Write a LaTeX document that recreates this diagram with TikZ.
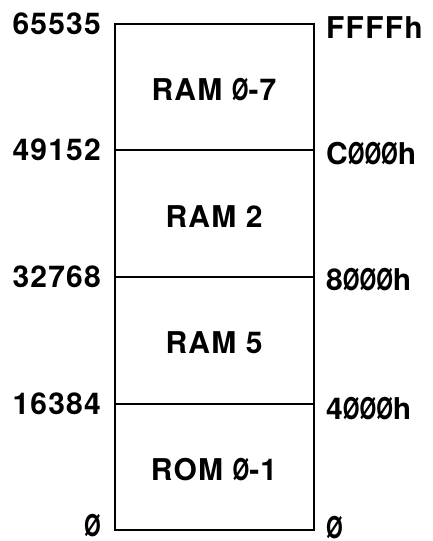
\documentclass[tikz,border=0pt]{standalone}
\usepackage{fontspec}
\setmainfont{TeX Gyre Heros}[LetterSpace=4]
\usepackage{tikz}
\usetikzlibrary{positioning}
% slashed zero, as wide as a digit
\newcommand{\sz}{\scalebox{0.715}[1]{Ø}}

\begin{document}
\begin{tikzpicture}[x=1pt, y=-1pt,
    addr/.style={font=\fontsize{30}{36}\selectfont\bfseries, inner sep=0pt},
    dec/.style={addr},
    hex/.style={addr},
    bank/.style={addr},
    frame/.style={line width=2.2pt},
    divider/.style={line width=1.6pt},
]
    \useasboundingbox (0,0) rectangle (432,541);

    % corners of the bank boundaries
    \coordinate (l4) at (115, 24);
    \coordinate (l3) at (115, 150);
    \coordinate (l2) at (115, 277);
    \coordinate (l1) at (115, 404);
    \coordinate (l0) at (115, 530);
    \coordinate (r4) at (314, 24);
    \coordinate (r3) at (314, 150);
    \coordinate (r2) at (314, 277);
    \coordinate (r1) at (314, 404);
    \coordinate (r0) at (314, 530);

    \draw[frame] (l0) rectangle (r4);
    \draw[divider] (l3) -- (r3);
    \draw[divider] (l2) -- (r2);
    \draw[divider] (l1) -- (r1);

    \node[dec, left=14pt of l4] (d4) {65535};
    \node[dec, left=14pt of l3] (d3) {49152};
    \node[dec, left=14pt of l2] (d2) {32768};
    \node[dec, left=14pt of l1] (d1) {16384};
    \node[dec, left=14pt of l0, yshift=4pt] (d0) {\sz};

    \node[hex, right=12pt of r4, yshift=-4pt] (h4) {FFFFh};
    \node[hex, right=12pt of r3, yshift=-4pt] (h3) {C\sz\sz\sz h};
    \node[hex, right=12pt of r2, yshift=-3pt] (h2) {8\sz\sz\sz h};
    \node[hex, right=12pt of r1, yshift=-5pt] (h1) {4\sz\sz\sz h};
    \node[hex, right=12pt of r0, yshift=2pt] (h0) {\sz};

    \node[bank] (ram07) at (214, 90) {RAM \sz-7};
    \node[bank] (ram2) at (214, 217) {RAM 2};
    \node[bank] (ram5) at (214, 343) {RAM 5};
    \node[bank] (rom01) at (214, 470) {ROM \sz-1};
\end{tikzpicture}
\end{document}
